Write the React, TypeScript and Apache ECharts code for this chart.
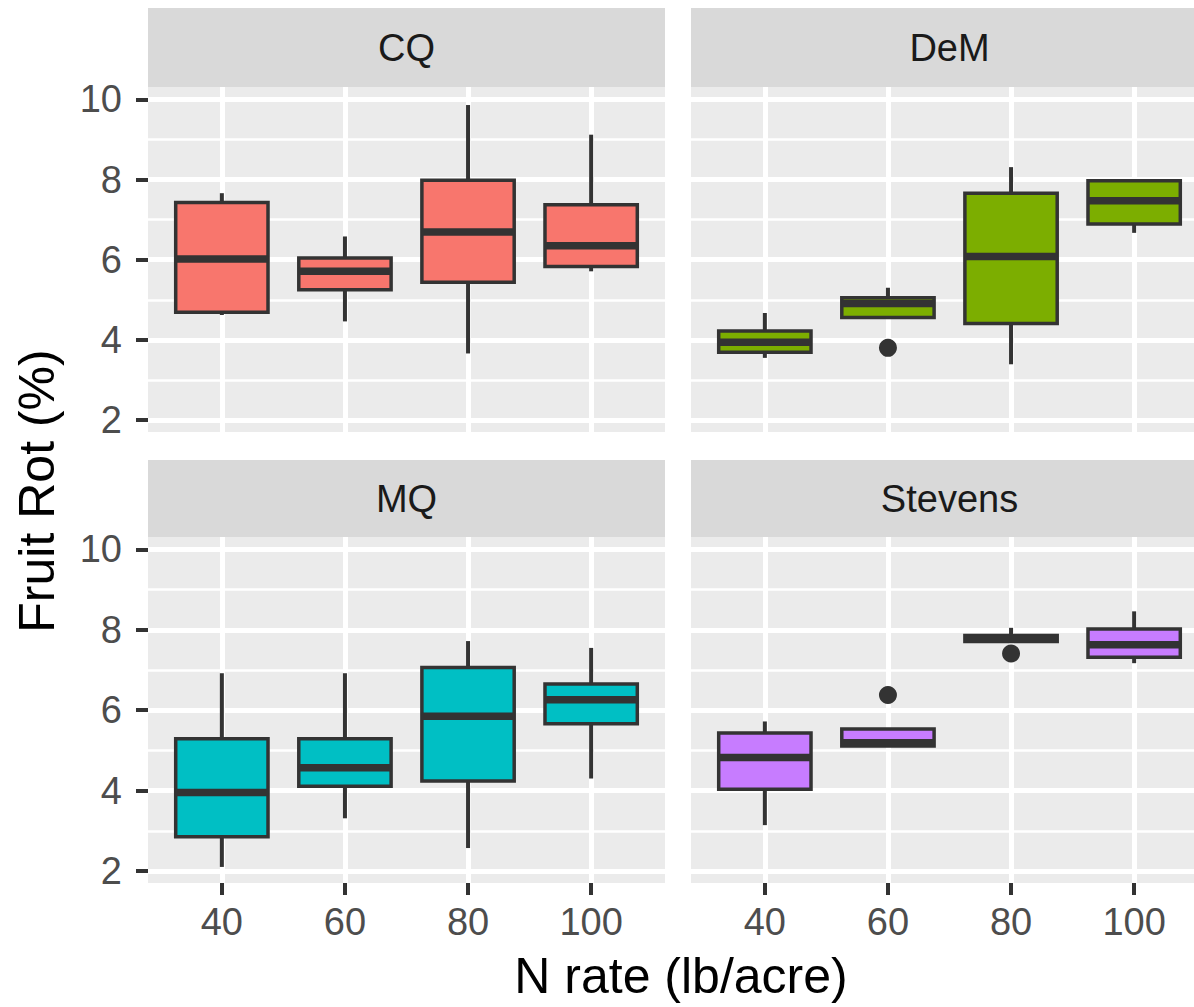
import React, { useEffect, useRef } from "react";
import * as echarts from "echarts";

// ---- data ----
const nRates = ["40", "60", "80", "100"];
const cultivars = ["CQ", "DeM", "MQ", "Stevens"];
const fillColors = ["#F8766D", "#7CAE00", "#00BFC4", "#C77CFF"];
const yTicks = [2, 4, 6, 8, 10];

// [min, Q1, median, Q3, max] per N rate
const cqStats = [
  [4.62, 4.69, 6.02, 7.43, 7.66],
  [4.46, 5.25, 5.71, 6.04, 6.58],
  [3.66, 5.44, 6.69, 7.98, 9.86],
  [5.71, 5.83, 6.35, 7.37, 9.12],
];
const demStats = [
  [3.55, 3.69, 3.94, 4.22, 4.67],
  [4.56, 4.56, 4.91, 5.05, 5.3],
  [3.39, 4.41, 6.08, 7.66, 8.31],
  [6.67, 6.89, 7.47, 7.97, 7.99],
];
const mqStats = [
  [2.1, 2.85, 3.95, 5.29, 6.92],
  [3.31, 4.11, 4.57, 5.29, 6.92],
  [2.57, 4.24, 5.85, 7.06, 7.72],
  [4.3, 5.66, 6.26, 6.65, 7.55],
];
const stevensStats = [
  [3.14, 4.03, 4.82, 5.43, 5.72],
  [5.11, 5.11, 5.19, 5.53, 5.55],
  [7.71, 7.71, 7.77, 7.86, 8.05],
  [7.17, 7.32, 7.63, 8.02, 8.46],
];
const cqOutliers: number[][] = [];
const demOutliers = [[1, 3.8]];
const mqOutliers: number[][] = [];
const stevensOutliers = [
  [1, 6.38],
  [2, 7.41],
];

const allStats = [cqStats, demStats, mqStats, stevensStats];
const allOutliers = [cqOutliers, demOutliers, mqOutliers, stevensOutliers];

// ---- layout / style ----
const FONT = "'Liberation Sans', Arial, Helvetica, sans-serif";
const gridLefts = [148, 691];
const gridTops = [87, 537];
const gridHeights = [345, 346];
const gridWidth = 517;
const stripTops = [8, 460];
const stripHeights = [79, 77];
const INK = "#333333";

export default function App() {
  const ref = useRef<HTMLDivElement>(null);

  useEffect(() => {
    if (!ref.current) return;
    const chart = echarts.init(ref.current, null, { renderer: "svg" });

    const grids: any[] = [];
    const xAxes: any[] = [];
    const yAxes: any[] = [];
    const series: any[] = [];
    const graphics: any[] = [];

    cultivars.forEach((name, i) => {
      const row = Math.floor(i / 2);
      const col = i % 2;
      const isLeft = col === 0;
      const isBottom = row === 1;
      grids.push({
        left: gridLefts[col],
        top: gridTops[row],
        width: gridWidth,
        height: gridHeights[row],
        show: true,
        backgroundColor: "#EBEBEB",
        borderWidth: 0,
        containLabel: false,
      });
      xAxes.push({
        type: "value",
        gridIndex: i,
        position: "bottom",
        min: -0.6,
        max: 3.6,
        axisLine: { show: false, onZero: false },
        axisTick: {
          show: isBottom,
          length: 12,
          lineStyle: { color: INK, width: 4 },
          customValues: [0, 1, 2, 3],
        },
        axisLabel: {
          show: isBottom,
          customValues: [0, 1, 2, 3],
          margin: 20,
          color: "#4D4D4D",
          fontSize: 38,
          fontFamily: FONT,
          formatter: (v: number) =>
            Number.isInteger(v) && nRates[v] !== undefined ? nRates[v] : "",
        },
        splitLine: { show: true, lineStyle: { color: "#FFFFFF", width: 5 } },
      });
      yAxes.push({
        type: "value",
        gridIndex: i,
        position: "left",
        min: 1.7,
        max: 10.31,
        axisLine: { show: false, onZero: false },
        axisTick: {
          show: isLeft,
          length: 12,
          lineStyle: { color: INK, width: 4 },
          customValues: yTicks,
        },
        axisLabel: {
          show: isLeft,
          customValues: yTicks,
          margin: 26,
          color: "#4D4D4D",
          fontSize: 38,
          fontFamily: FONT,
          formatter: (v: number) => (yTicks.indexOf(v) >= 0 ? String(v) : ""),
        },
        splitLine: { show: true, lineStyle: { color: "#FFFFFF", width: 5 } },
        minorTick: { show: false, splitNumber: 2 },
        minorSplitLine: { show: true, lineStyle: { color: "#FFFFFF", width: 2.5 } },
      });

      const color = fillColors[i];
      series.push({
        type: "custom",
        name: name,
        xAxisIndex: i,
        yAxisIndex: i,
        encode: { x: 0, y: [1, 2, 3, 4, 5] },
        data: allStats[i].map((s, k) => [k, ...s]),
        renderItem: (params: any, api: any) => {
          const x = api.value(0);
          const pts = [1, 2, 3, 4, 5].map((d) => api.coord([x, api.value(d)]));
          const cx = pts[0][0];
          const bw = api.size([0.75, 0])[0];
          const left = cx - bw / 2;
          return {
            type: "group",
            children: [
              {
                type: "line",
                shape: { x1: cx, y1: pts[4][1], x2: cx, y2: pts[3][1] },
                style: { stroke: INK, lineWidth: 4 },
              },
              {
                type: "line",
                shape: { x1: cx, y1: pts[1][1], x2: cx, y2: pts[0][1] },
                style: { stroke: INK, lineWidth: 4 },
              },
              {
                type: "rect",
                shape: { x: left, y: pts[3][1], width: bw, height: pts[1][1] - pts[3][1] },
                style: { fill: color, stroke: INK, lineWidth: 3.5 },
              },
              {
                type: "line",
                shape: { x1: left, y1: pts[2][1], x2: left + bw, y2: pts[2][1] },
                style: { stroke: INK, lineWidth: 7.5 },
              },
            ],
          };
        },
      });
      if (allOutliers[i].length) {
        series.push({
          type: "scatter",
          xAxisIndex: i,
          yAxisIndex: i,
          data: allOutliers[i],
          symbol: "circle",
          symbolSize: 18,
          itemStyle: { color: INK, opacity: 1 },
          z: 5,
        });
      }

      graphics.push({
        type: "rect",
        shape: { x: gridLefts[col], y: stripTops[row], width: gridWidth, height: stripHeights[row] },
        style: { fill: "#D9D9D9" },
        silent: true,
      });
      graphics.push({
        type: "text",
        x: gridLefts[col] + gridWidth / 2,
        y: stripTops[row] + stripHeights[row] / 2,
        style: {
          text: name,
          fill: "#1A1A1A",
          font: `38px ${FONT}`,
          align: "center",
          verticalAlign: "middle",
        },
        silent: true,
      });
    });

    graphics.push({
      type: "text",
      x: 681,
      y: 976,
      style: {
        text: "N rate (lb/acre)",
        fill: "#000000",
        font: `50px ${FONT}`,
        align: "center",
        verticalAlign: "middle",
      },
      silent: true,
    });
    graphics.push({
      type: "text",
      x: 37,
      y: 491,
      rotation: Math.PI / 2,
      style: {
        text: "Fruit Rot (%)",
        fill: "#000000",
        font: `50px ${FONT}`,
        align: "center",
        verticalAlign: "middle",
      },
      silent: true,
    });

    chart.setOption({
      animation: false,
      backgroundColor: "#FFFFFF",
      grid: grids,
      xAxis: xAxes,
      yAxis: yAxes,
      series: series,
      graphic: graphics,
    });

    return () => chart.dispose();
  }, []);

  return (
    <div
      style={{
        position: "absolute",
        left: 0,
        top: 0,
        width: 1194,
        height: 1007,
        overflow: "hidden",
      }}
    >
      <div ref={ref} style={{ width: 1212, height: 1007 }} />
    </div>
  );
}
